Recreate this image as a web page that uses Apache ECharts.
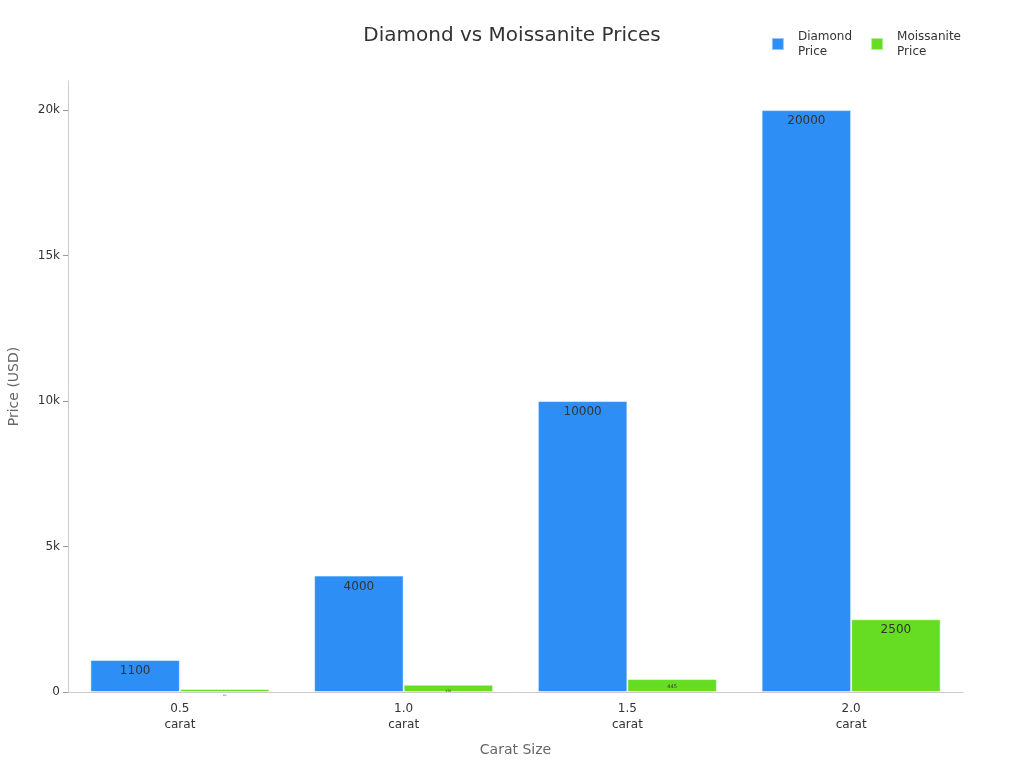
<!DOCTYPE html>
<html>
<head>
<meta charset="utf-8">
<script src="https://cdn.jsdelivr.net/npm/echarts@6/dist/echarts.min.js"></script>
<style>html,body{margin:0;padding:0;background:#fff}#c{width:1024px;height:768px}</style>
</head>
<body>
<div id="c"></div>
<script>
const categories = ['0.5\ncarat', '1.0\ncarat', '1.5\ncarat', '2.0\ncarat'];
const diamondPrice = [1100, 4000, 10000, 20000];
const moissanitePrice = [100, 250, 445, 2500];
const moissaniteLabelSizes = [2, 3, 5, 12];
const yTicks = [0, 5000, 10000, 15000, 20000];

const chart = echarts.init(document.getElementById('c'));
const font = 'DejaVu Sans';
chart.setOption({
  textStyle: { fontFamily: font },
  title: {
    text: 'Diamond vs Moissanite Prices',
    left: 'center', top: 21,
    textStyle: { fontSize: 20, fontWeight: 'normal', color: '#333', fontFamily: font }
  },
  legend: {
    right: 58, top: 24,
    icon: 'rect', itemWidth: 12, itemHeight: 12, itemGap: 18,
    textStyle: { fontSize: 12, color: '#333', lineHeight: 15, fontFamily: font, padding: [0, 0, 0, 9] },
    data: ['Diamond\nPrice', 'Moissanite\nPrice']
  },
  grid: { left: 68, right: 61, top: 81, bottom: 76, containLabel: false, outerBoundsMode: 'none' },
  xAxis: {
    type: 'category',
    data: categories,
    name: 'Carat Size', nameLocation: 'middle', nameGap: 51,
    nameTextStyle: { fontSize: 14, color: '#666' },
    axisLine: { lineStyle: { color: '#ccc' } },
    axisTick: { alignWithLabel: true, lineStyle: { color: '#999' } },
    axisLabel: { fontSize: 12, color: '#333', lineHeight: 16, margin: 9 }
  },
  yAxis: {
    type: 'value', min: 0, max: 21000, interval: 5000,
    name: 'Price (USD)', nameLocation: 'middle', nameGap: 47,
    nameTextStyle: { fontSize: 14, color: '#666' },
    axisLine: { show: true, lineStyle: { color: '#ccc' } },
    axisTick: { show: true, customValues: yTicks, lineStyle: { color: '#999' } },
    splitLine: { show: false },
    axisLabel: {
      fontSize: 12, color: '#333', customValues: yTicks,
      formatter: v => v === 0 ? '0' : (v / 1000) + 'k'
    }
  },
  series: [
    {
      name: 'Diamond\nPrice', type: 'bar', data: diamondPrice,
      barGap: '0%', barCategoryGap: '20%',
      itemStyle: { color: '#2d8ff5', borderColor: 'rgba(255,255,255,0.5)', borderWidth: 1 },
      label: { show: true, position: 'insideTop', color: '#333', fontSize: 12 }
    },
    {
      name: 'Moissanite\nPrice', type: 'bar',
      data: moissanitePrice.map((v, i) => ({ value: v, label: { fontSize: moissaniteLabelSizes[i] } })),
      itemStyle: { color: '#66dd22', borderColor: 'rgba(255,255,255,0.5)', borderWidth: 1 },
      label: { show: true, position: 'insideTop', color: '#333', fontSize: 12 }
    }
  ]
});
</script>
</body>
</html>
